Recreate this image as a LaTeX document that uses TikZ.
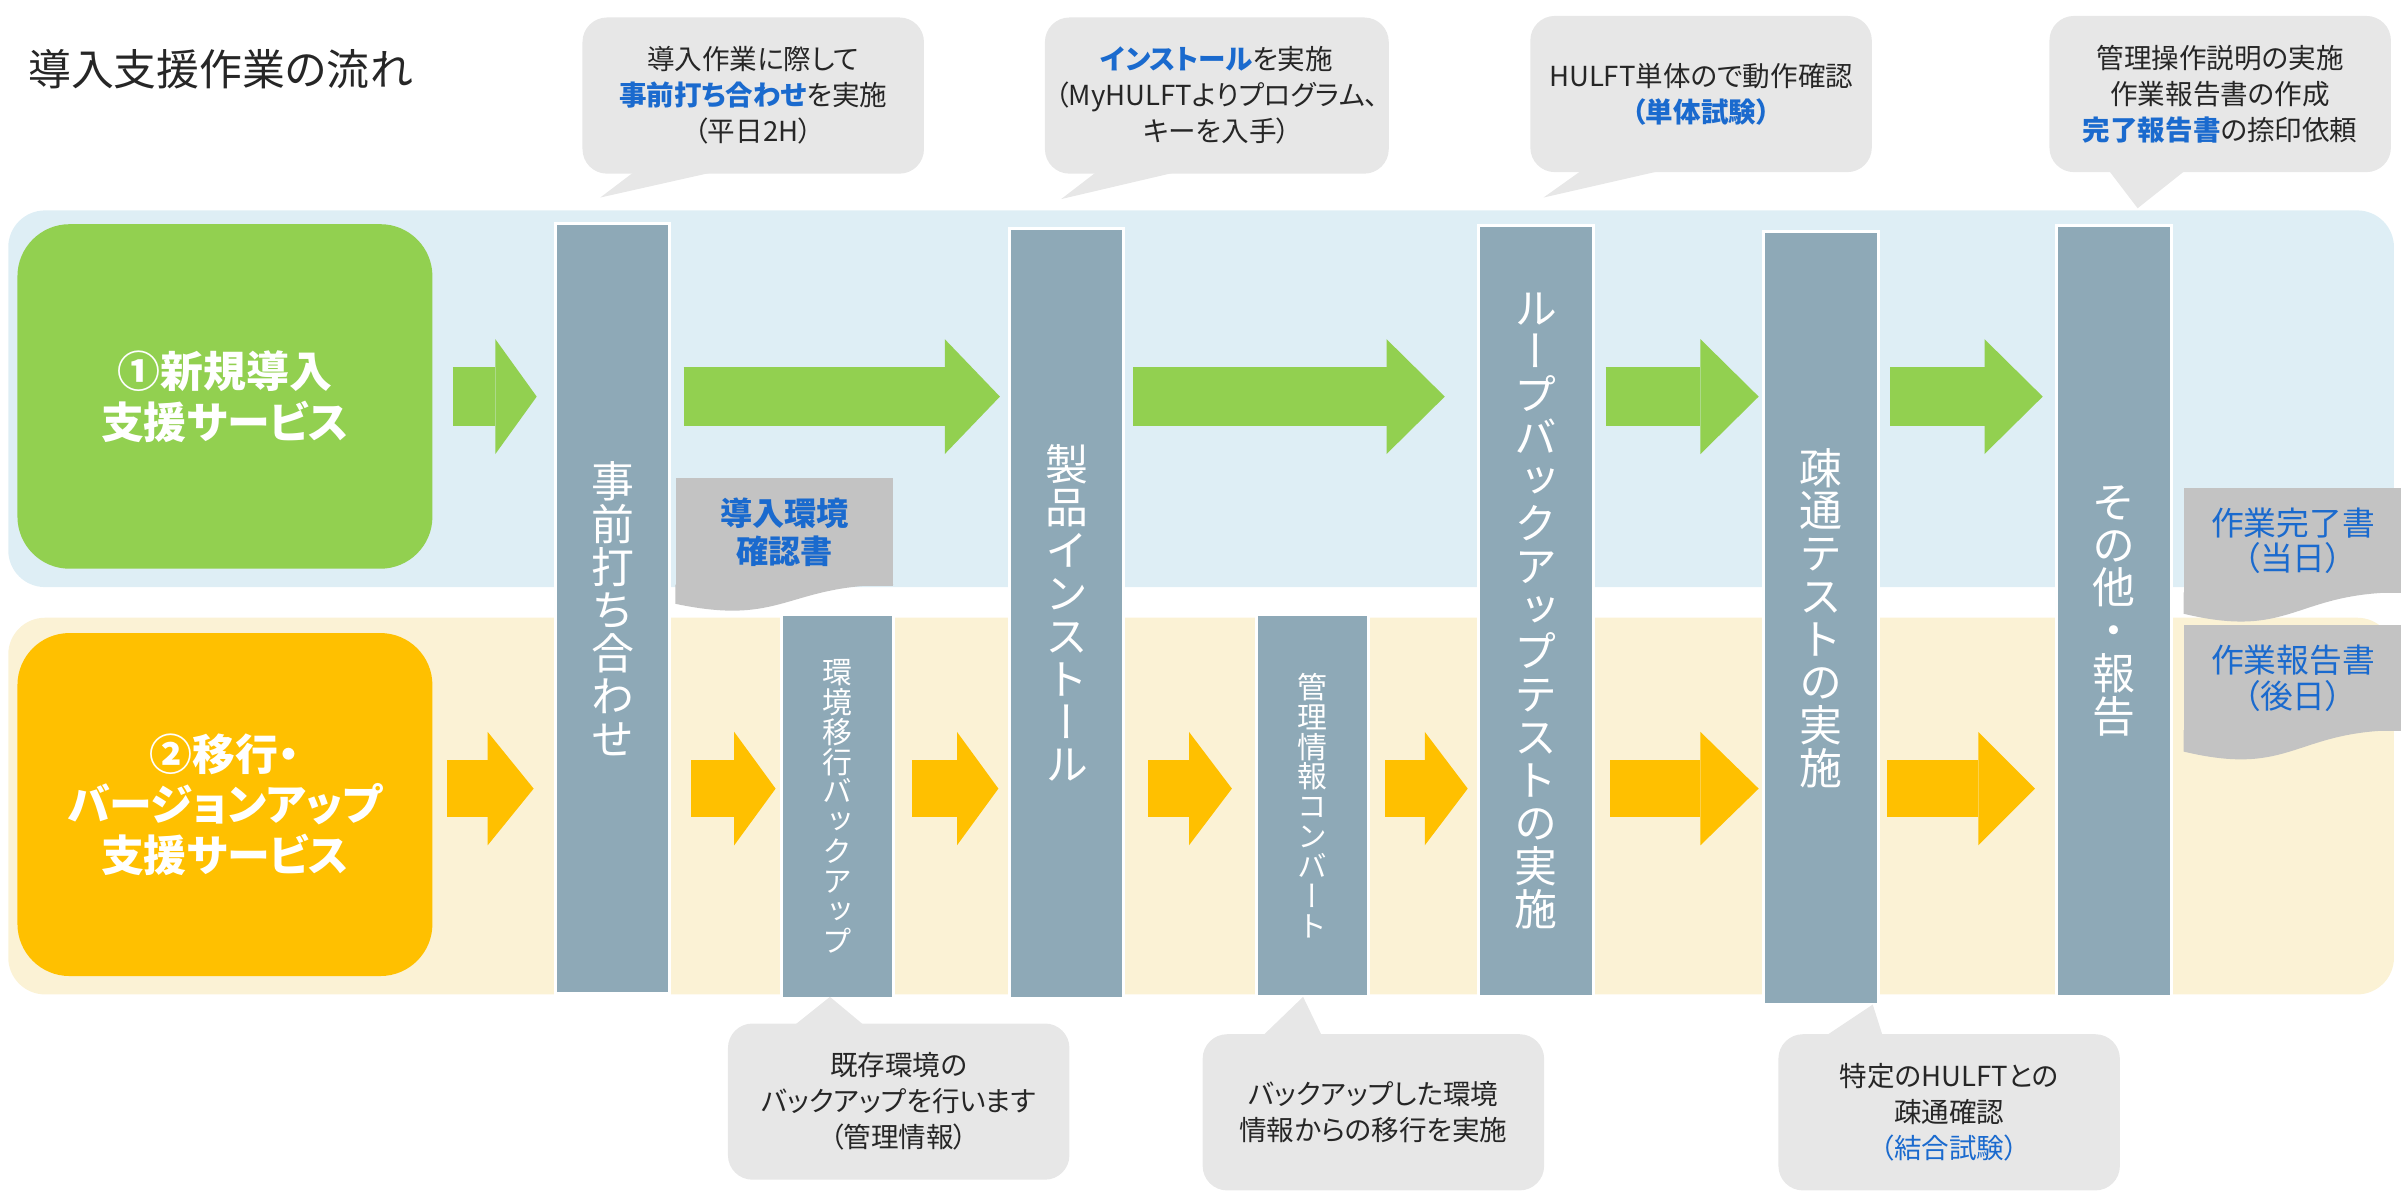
\documentclass[tikz,border=0pt]{standalone}
\usepackage{fontspec}
\setmainfont{Noto Sans CJK JP}[RawFeature={+palt}]
\newfontfamily\tatefont{Noto Sans CJK JP}[RawFeature={+vert}]
\usetikzlibrary{arrows.meta,positioning}

\definecolor{bandblue}{RGB}{222,238,245}
\definecolor{bandcream}{RGB}{251,242,213}
\definecolor{newgreen}{RGB}{146,208,80}
\definecolor{migorange}{RGB}{255,192,0}
\definecolor{bargray}{RGB}{142,169,183}
\definecolor{talkgray}{RGB}{231,231,231}
\definecolor{docgray}{RGB}{195,195,195}
\definecolor{keyblue}{RGB}{26,106,206}
\definecolor{textdark}{RGB}{38,38,38}

\newcommand{\bluekey}[1]{\textcolor{keyblue}{\bfseries #1}}

\tikzstyle{band} = [rectangle, rounded corners=12pt, minimum width=779pt, minimum height=123pt, anchor=north west, inner sep=0pt]
\tikzstyle{servicebox} = [rectangle, rounded corners=17pt, minimum width=135.5pt, minimum height=112.5pt, anchor=north west, text=white, align=center, font=\bfseries\fontsize{14}{16.5}\selectfont]
\tikzstyle{procbar} = [rectangle, fill=bargray, draw=white, line width=1pt, minimum width=37.5pt, anchor=north, inner sep=0pt, text=white, align=center, font=\tatefont\fontsize{14}{14}\selectfont]
\tikzstyle{subbar} = [procbar, minimum width=36.5pt, font=\tatefont\fontsize{9.75}{9.75}\selectfont]
\tikzstyle{talkbox} = [rectangle, fill=talkgray, rounded corners=8pt, minimum width=111.5pt, minimum height=51pt, anchor=north west, align=center, text=textdark, font=\fontsize{9}{11.75}\selectfont]
\tikzstyle{docbox} = [rectangle, fill=docgray, minimum width=71pt, minimum height=35pt, anchor=north west, inner sep=0pt, align=center, text=keyblue, font=\fontsize{10.7}{11.5}\selectfont]

\tikzset{
  garrow/.style={draw=newgreen, line width=19.5pt, -{Triangle[width=37.5pt, length=#1, line width=0pt]}},
  garrow/.default=18pt,
  oarrow/.style={draw=migorange, line width=18.5pt, -{Triangle[width=37pt, length=#1, line width=0pt]}},
  oarrow/.default=14pt
}

\begin{document}
\begin{tikzpicture}[x=0.5pt, y=-0.5pt]
\useasboundingbox (0,0) rectangle (1568,778);

\node[anchor=west, inner sep=0pt, text=textdark, font=\fontsize{14}{16}\selectfont] (title) at (18,45) {導入支援作業の流れ};

% the two service lanes
\node[band, fill=bandblue] (newband) at (5,137) {};
\node[band, fill=bandcream] (migband) at (5,403) {};
\node[servicebox, fill=newgreen] (gbox) at (11,146) {①新規導入\\支援サービス};
\node[servicebox, fill=migorange, minimum height=112pt] (obox) at (11,413) {②移行・\\バージョンアップ\\支援サービス};

% work steps
\node[procbar, minimum height=251.5pt] (bar1) at (400,145) {事\\前\\打\\ち\\合\\わ\\せ};
\node[subbar, minimum height=125.5pt] (bar2) at (547,400) {環\\境\\移\\行\\バ\\ッ\\ク\\ア\\ッ\\プ};
\node[procbar, minimum height=251.5pt] (bar3) at (696.5,148) {製\\品\\イ\\ン\\ス\\ト\\ー\\ル};
\node[subbar, minimum height=125pt] (bar4) at (857,400) {管\\理\\情\\報\\コ\\ン\\バ\\ー\\ト};
\node[procbar, minimum height=252pt] (bar5) at (1003,146) {ル\\ー\\プ\\バ\\ッ\\ク\\ア\\ッ\\プ\\テ\\ス\\ト\\の\\実\\施};
\node[procbar, minimum height=252.5pt] (bar6) at (1189,150) {疎\\通\\テ\\ス\\ト\\の\\実\\施};
\node[procbar, minimum height=252pt] (bar7) at (1380.5,146) {そ\\の\\他\\・\\報\\告};

% documents
\node[docbox, font=\bfseries\fontsize{10.5}{12.5}\selectfont] (doc1) at (441,312) {導入環境\\確認書};
\fill[docgray] ([yshift=0.5pt]doc1.south east) .. controls +(-71,0) and +(71,15) .. ([shift={(0,11.5)}]doc1.south west) -- ([yshift=0.5pt]doc1.south west) -- cycle;
\node[docbox, minimum height=34.5pt] (doc2) at (1426,318) {作業完了書\\（当日）};
\fill[docgray] ([yshift=0.5pt]doc2.south east) .. controls +(-71,0) and +(71,17) .. ([shift={(0,13)}]doc2.south west) -- ([yshift=0.5pt]doc2.south west) -- cycle;
\node[docbox, minimum height=34.5pt] (doc3) at (1426,408) {作業報告書\\（後日）};
\fill[docgray] ([yshift=0.5pt]doc3.south east) .. controls +(-71,0) and +(71,17) .. ([shift={(0,13)}]doc3.south west) -- ([yshift=0.5pt]doc3.south west) -- cycle;

% flow arrows
\coordinate (grow) at (0,259);
\coordinate (orow) at (0,515);
\draw[garrow=13.5pt, shorten <=6.5pt, shorten >=5.5pt] (gbox.east |- grow) -- (bar1.west |- grow);
\draw[garrow, shorten <=4pt, shorten >=2.5pt] (bar1.east |- grow) -- (bar3.west |- grow);
\draw[garrow=19pt, shorten <=2.5pt, shorten >=10.5pt] (bar3.east |- grow) -- (bar5.west |- grow);
\draw[garrow=19pt, shorten <=3.5pt, shorten >=1pt] (bar5.east |- grow) -- (bar6.west |- grow);
\draw[garrow=19pt, shorten <=3.5pt, shorten >=4pt] (bar6.east |- grow) -- (bar7.west |- grow);

\draw[oarrow=15pt, shorten <=4.5pt, shorten >=6.5pt] (obox.east |- orow) -- (bar1.west |- orow);
\draw[oarrow=13.5pt, shorten <=6.5pt, shorten >=1.5pt] (bar1.east |- orow) -- (bar2.west |- orow);
\draw[oarrow=13.5pt, shorten <=5.5pt, shorten >=3pt] (bar2.east |- orow) -- (bar3.west |- orow);
\draw[oarrow, shorten <=7.5pt, shorten >=7.5pt] (bar3.east |- orow) -- (bar4.west |- orow);
\draw[oarrow, shorten <=5pt, shorten >=3pt] (bar4.east |- orow) -- (bar5.west |- orow);
\draw[oarrow=19pt, shorten <=5pt, shorten >=1pt] (bar5.east |- orow) -- (bar6.west |- orow);
\draw[oarrow=18.5pt, shorten <=2.5pt, shorten >=6.5pt] (bar6.east |- orow) -- (bar7.west |- orow);

% notes
\node[talkbox] (tk1) at (380,11) {導入作業に際して\\\bluekey{事前打ち合わせ}を実施\\（平日2H）};
\coordinate (tip1) at (392,129);
\fill[talkgray] ([shift={(36,-3)}]tk1.south west) -- (tip1) -- ([shift={(93,-3)}]tk1.south west) -- cycle;

\node[talkbox] (tk2) at (682,11) {\bluekey{インストール}を実施\\（MyHULFTよりプログラム、\\キーを入手）};
\coordinate (tip2) at (693,130);
\fill[talkgray] ([shift={(36,-3)}]tk2.south west) -- (tip2) -- ([shift={(93,-3)}]tk2.south west) -- cycle;

\node[talkbox] (tk3) at (999,10) {HULFT単体ので動作確認\\\bluekey{（単体試験）}};
\coordinate (tip3) at (1008,129);
\fill[talkgray] ([shift={(36,-3)}]tk3.south west) -- (tip3) -- ([shift={(93,-3)}]tk3.south west) -- cycle;

\node[talkbox] (tk4) at (1338,10) {管理操作説明の実施\\作業報告書の作成\\\bluekey{完了報告書}の捺印依頼};
\coordinate (tip4) at (1396,136);
\fill[talkgray] ([shift={(38,-3)}]tk4.south west) -- (tip4) -- ([shift={(91,-3)}]tk4.south west) -- cycle;

\node[talkbox] (tkA) at (475,668) {既存環境の\\バックアップを行います\\（管理情報）};
\coordinate (tipA) at (542,651);
\fill[talkgray] ([shift={(42,3)}]tkA.north west) -- (tipA) -- ([shift={(91,3)}]tkA.north west) -- cycle;

\node[talkbox] (tkB) at (785,675) {バックアップした環境\\情報からの移行を実施};
\coordinate (tipB) at (851,651);
\fill[talkgray] ([shift={(38,3)}]tkB.north west) -- (tipB) -- ([shift={(79,3)}]tkB.north west) -- cycle;

\node[talkbox] (tkC) at (1161,675) {特定のHULFTとの\\疎通確認\\\textcolor{keyblue}{（結合試験）}};
\coordinate (tipC) at (1223,656);
\fill[talkgray] ([shift={(29,3)}]tkC.north west) -- (tipC) -- ([shift={(69,3)}]tkC.north west) -- cycle;
\end{tikzpicture}
\end{document}
